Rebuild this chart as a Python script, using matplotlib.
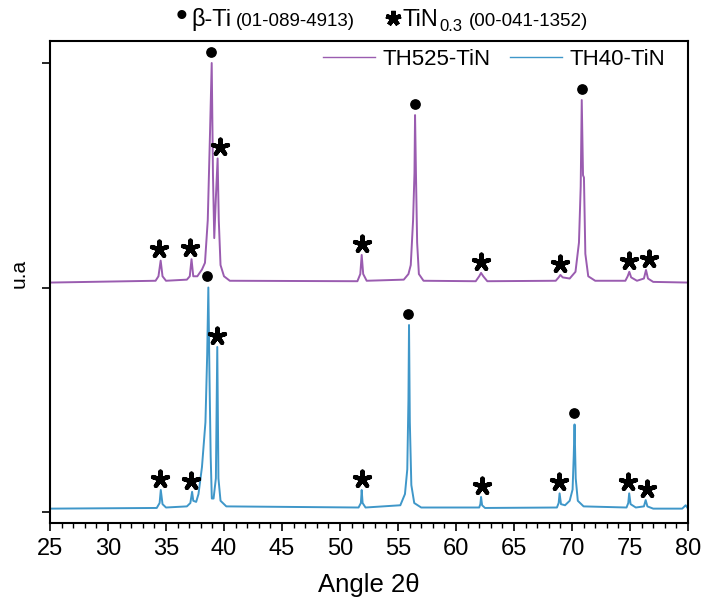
import numpy as np
import matplotlib
matplotlib.use("Agg")
import matplotlib.pyplot as plt
from matplotlib.ticker import MultipleLocator
from matplotlib.lines import Line2D

plt.rcParams['font.family'] = ['Liberation Sans', 'DejaVu Sans']
plt.rcParams['mathtext.fontset'] = 'custom'
plt.rcParams['mathtext.rm'] = 'Liberation Sans'
plt.rcParams['mathtext.it'] = 'Liberation Sans'

# ---- diffraction patterns (2θ in degrees, intensity in arbitrary units) ----
th40_angle = [25.0, 34.2, 34.45, 34.55, 34.7, 35.0, 36.8, 37.1, 37.25, 37.35,
              37.6, 37.8, 38.1, 38.4, 38.55, 38.65, 38.75, 38.85, 38.95, 39.1,
              39.3, 39.42, 39.52, 39.7, 40.2, 51.6, 51.8, 51.87, 51.95, 52.2,
              55.2, 55.6, 55.8, 55.9, 55.95, 56.02, 56.15, 56.4, 57.0, 62.0,
              62.1, 62.16, 62.25, 62.5, 68.7, 68.85, 68.93, 69.05, 69.4, 69.8,
              70.05, 70.15, 70.22, 70.32, 70.5, 71.0, 74.7, 74.85, 74.93, 75.05,
              75.5, 76.2, 76.35, 76.5, 77.0, 79.5, 79.8, 80.0]
th40_int = [0.015, 0.018, 0.04, 0.098, 0.035, 0.02, 0.025, 0.04, 0.09, 0.05,
            0.045, 0.08, 0.2, 0.4, 0.7, 1.0, 0.6, 0.25, 0.06, 0.06,
            0.15, 0.735, 0.15, 0.05, 0.025, 0.02, 0.04, 0.098, 0.04, 0.02,
            0.03, 0.08, 0.19, 0.5, 0.833, 0.4, 0.12, 0.04, 0.02, 0.02,
            0.035, 0.067, 0.03, 0.018, 0.02, 0.04, 0.083, 0.035, 0.03, 0.05,
            0.1, 0.25, 0.39, 0.15, 0.05, 0.025, 0.02, 0.04, 0.083, 0.035,
            0.02, 0.025, 0.053, 0.025, 0.015, 0.015, 0.03, 0.015]

th525_angle = [25.0, 34.1, 34.35, 34.54, 34.7, 35.0, 36.8, 37.05, 37.2, 37.35,
               37.7, 38.1, 38.36, 38.6, 38.8, 38.94, 39.05, 39.16, 39.3, 39.45,
               39.55, 39.7, 40.0, 40.5, 51.5, 51.75, 51.87, 52.0, 52.3, 55.5,
               55.9, 56.1, 56.3, 56.42, 56.47, 56.55, 56.65, 56.8, 57.2, 61.7,
               62.0, 62.16, 62.35, 62.7, 68.6, 68.85, 69.0, 69.2, 69.8, 70.3,
               70.6, 70.75, 70.84, 70.95, 71.03, 71.15, 71.4, 72.0, 74.6, 74.8,
               74.94, 75.1, 75.6, 76.2, 76.38, 76.55, 77.0, 80.0]
th525_int = [1.022, 1.03, 1.05, 1.12, 1.05, 1.03, 1.035, 1.05, 1.126, 1.05,
             1.05, 1.08, 1.11, 1.3, 1.7, 2.0, 1.5, 1.22, 1.4, 1.575,
             1.3, 1.1, 1.05, 1.03, 1.028, 1.06, 1.145, 1.06, 1.03, 1.035,
             1.06, 1.1, 1.3, 1.51, 1.768, 1.5, 1.2, 1.06, 1.03, 1.028,
             1.05, 1.065, 1.05, 1.028, 1.03, 1.045, 1.056, 1.045, 1.04, 1.07,
             1.2, 1.45, 1.835, 1.5, 1.49, 1.15, 1.05, 1.03, 1.03, 1.05,
             1.07, 1.045, 1.03, 1.04, 1.078, 1.04, 1.025, 1.022]

# ---- indexed reflections ----
th40_beta = [38.53, 55.86, 70.17]
th40_tin = [34.48, 37.16, 39.4, 51.9, 62.24, 68.88, 74.83, 76.47]
th525_beta = [38.88, 56.47, 70.86]
th525_tin = [34.4, 37.07, 39.66, 51.9, 62.16, 68.97, 74.91, 76.64]

labels = ["TH525-TiN", "TH40-TiN"]
purple = "#9A5CB0"
blue = "#3F97C9"

W, H = 704, 605
fig = plt.figure(figsize=(W / 100, H / 100), dpi=100)
ax = fig.add_axes([50 / W, 1 - 523 / H, 638 / W, 482 / H])

ax.plot(th525_angle, th525_int, color=purple, lw=1.4)
ax.plot(th40_angle, th40_int, color=blue, lw=1.4)


def peak_top(angle, xs, ys, win=0.35):
    xs = np.asarray(xs)
    ys = np.asarray(ys)
    sel = np.abs(xs - angle) <= win
    return ys[sel].max() if sel.any() else np.interp(angle, xs, ys)


star = (5, 2, 0)
off = 0.05
for xs, ys, beta, tin in [(th525_angle, th525_int, th525_beta, th525_tin),
                          (th40_angle, th40_int, th40_beta, th40_tin)]:
    by = [peak_top(a, xs, ys) + off for a in beta]
    ty = [peak_top(a, xs, ys) + off for a in tin]
    ax.scatter(beta, by, s=45, color="black", marker="o", zorder=5,
               clip_on=False)
    ax.scatter(tin, ty, s=125, color="black", marker=star, linewidths=3.2,
               zorder=5, clip_on=False)

ax.set_xlim(25, 80)
ax.set_ylim(-0.049, 2.098)
ax.xaxis.set_major_locator(MultipleLocator(5))
ax.xaxis.set_minor_locator(MultipleLocator(1))
ax.set_yticks([0, 1, 2])
ax.set_yticklabels([])
ax.tick_params(axis="x", which="major", direction="out", length=6, width=1.2,
               labelsize=17, pad=5)
ax.tick_params(axis="x", which="minor", direction="out", length=3.5, width=1.0)
ax.tick_params(axis="y", which="major", direction="out", length=6, width=1.2)
for sp in ax.spines.values():
    sp.set_linewidth(1.5)

ax.set_xlabel("Angle 2θ", fontsize=18.5, labelpad=9)
ax.set_ylabel("u.a", fontsize=15)
ax.yaxis.set_label_coords(-0.034, 0.517)

handles = [Line2D([], [], color=purple, lw=1), Line2D([], [], color=blue, lw=1)]
ax.legend(handles, labels, ncol=2, loc="upper right", frameon=False,
          fontsize=16, handlelength=2.3, handletextpad=0.35,
          columnspacing=0.9, borderaxespad=0.2, bbox_to_anchor=(0.985, 1.012))

# ---- header with phase references ----
fig.canvas.draw()
renderer = fig.canvas.get_renderer()
base_y = 1 - 26 / H
x = 176.0
pieces = [("\u2022", 24, 0, 4), ("β-Ti", 17, 0, 4), ("(01-089-4913)", 13.5, 0, 30),
          (None, 0, 0, 2), ("TiN", 17, 0, 1), ("0.3", 12, -5, 6),
          ("(00-041-1352)", 13.5, 0, 0)]
for text, size, dy, gap in pieces:
    if text is None:
        ax.plot([(x + 8) / W], [1 - 18 / H], marker=star, ms=11, mew=3.2,
                color="black", transform=fig.transFigure, clip_on=False)
        x += 16 + gap
        continue
    t = fig.text(x / W, base_y + dy / H, text, fontsize=size, ha="left",
                 va="baseline")
    bb = t.get_window_extent(renderer)
    x = bb.x1 + gap

fig.savefig("out.png", dpi=100)
